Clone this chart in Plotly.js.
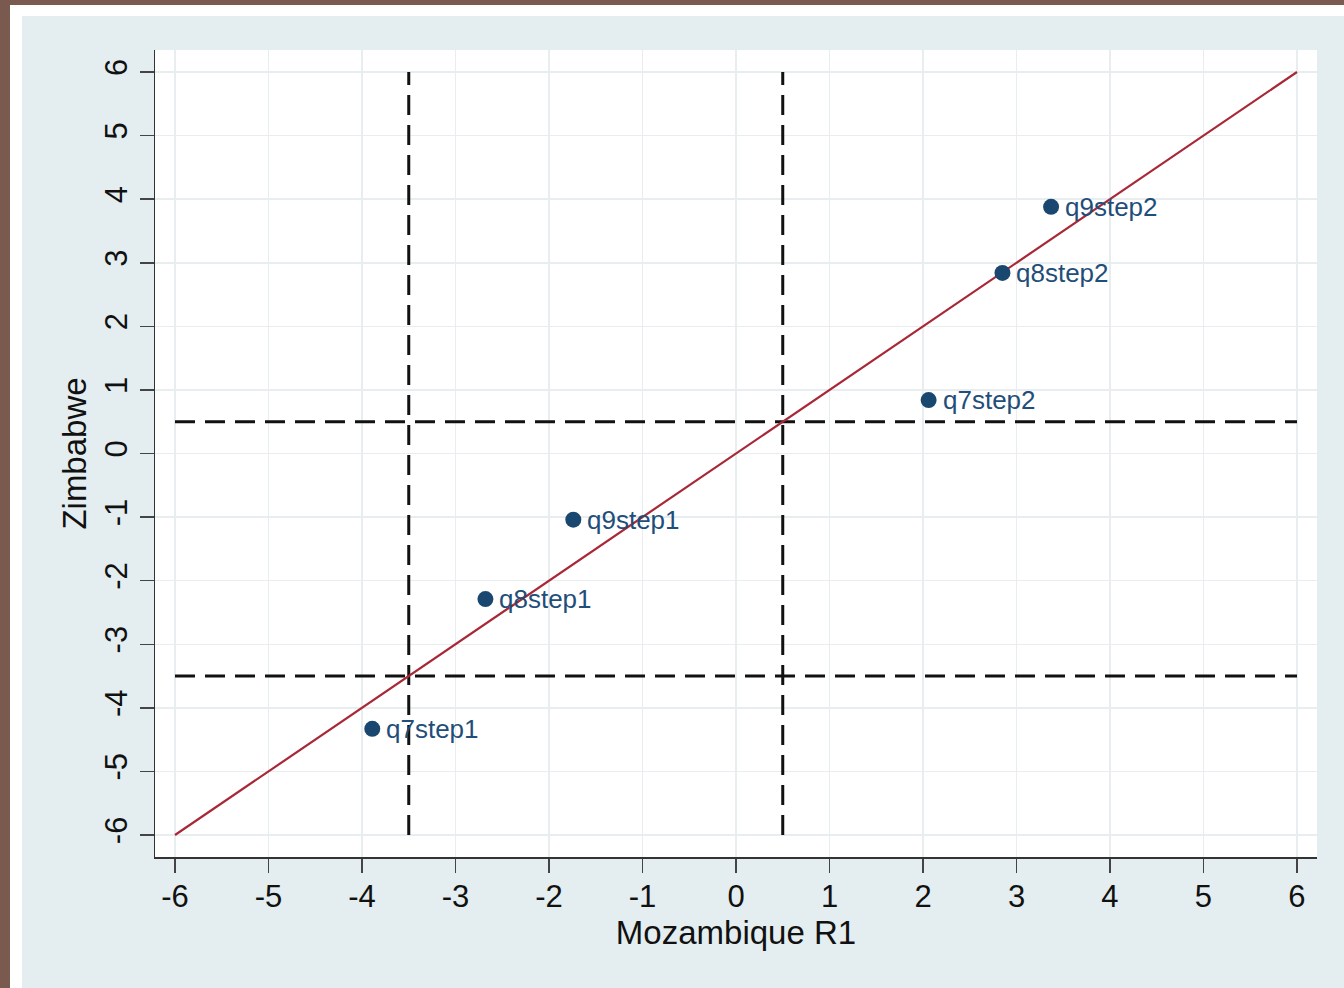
<!DOCTYPE html>
<html>
<head>
<meta charset="utf-8">
<script src="https://cdn.plot.ly/plotly-3.0.1.min.js"></script>
<style>
  html, body { margin: 0; padding: 0; width: 1344px; height: 988px; overflow: hidden; background: #7a5a4f; }
  #frame { position: absolute; left: 10px; top: 5px; width: 1334px; height: 983px; background: #ffffff; }
  #chart { position: absolute; left: 22px; top: 16px; width: 1322px; height: 972px; }
</style>
</head>
<body>
<div id="frame"></div>
<div id="chart"></div>
<script>
// Data
const itemLabels = ["q7step1", "q8step1", "q9step1", "q7step2", "q8step2", "q9step2"];
const mozambiqueR1 = [-3.89, -2.68, -1.74, 2.06, 2.85, 3.37];
const zimbabwe = [-4.33, -2.29, -1.04, 0.84, 2.84, 3.88];
const identityLine = [-6, 6];
const cutX = [-3.5, 0.5];
const cutY = [0.5, -3.5];
const tickVals = [-6, -5, -4, -3, -2, -1, 0, 1, 2, 3, 4, 5, 6];

const navy = "#1a476f";
const traces = [];

// Horizontal dashed reference lines
cutY.forEach(v => {
  traces.push({
    x: identityLine, y: [v, v], mode: "lines", type: "scatter",
    line: { color: "#111111", width: 3, dash: "20px,10px" }, hoverinfo: "skip", showlegend: false
  });
});
// Vertical dashed reference lines
cutX.forEach(v => {
  traces.push({
    x: [v, v], y: identityLine, mode: "lines", type: "scatter",
    line: { color: "#111111", width: 3, dash: "20px,10px" }, hoverinfo: "skip", showlegend: false
  });
});
// Identity line
traces.push({
  x: identityLine, y: identityLine, mode: "lines", type: "scatter",
  line: { color: "#a82838", width: 2.2 }, hoverinfo: "skip", showlegend: false
});
// Items
traces.push({
  x: mozambiqueR1, y: zimbabwe, mode: "markers", type: "scatter",
  marker: { color: navy, size: 16 }, showlegend: false
});

const fontFam = "Liberation Sans, Arial, sans-serif";
const annotations = itemLabels.map((t, i) => ({
  x: mozambiqueR1[i], y: zimbabwe[i], xref: "x", yref: "y",
  text: t, showarrow: false, xanchor: "left", yanchor: "middle", xshift: 12,
  font: { family: fontFam, size: 26, color: "#1f4e79" }
}));

const layout = {
  width: 1322, height: 972,
  paper_bgcolor: "#e4eef0",
  plot_bgcolor: "#ffffff",
  margin: { l: 133, r: 27, t: 34, b: 131 },
  showlegend: false,
  annotations: annotations,
  font: { family: fontFam, color: "#111111" },
  xaxis: {
    range: [-6.214, 6.214],
    tickvals: tickVals,
    ticktext: tickVals.map(String),
    showgrid: true, gridcolor: "#e8eeef", gridwidth: 1.5,
    zeroline: false,
    showline: true, linecolor: "#333333", linewidth: 1.5,
    ticks: "outside", ticklen: 14, tickwidth: 1.5, tickcolor: "#444444",
    ticklabelstandoff: -3,
    tickfont: { size: 31, family: fontFam, color: "#111111" },
    title: { text: "Mozambique R1", font: { size: 33, family: fontFam, color: "#111111" }, standoff: 0 }
  },
  yaxis: {
    range: [-6.346, 6.346],
    tickvals: tickVals,
    ticktext: tickVals.map(String),
    tickangle: -90,
    showgrid: true, gridcolor: "#e8eeef", gridwidth: 1.5,
    zeroline: false,
    showline: true, linecolor: "#333333", linewidth: 1.5,
    ticks: "outside", ticklen: 14, tickwidth: 1.5, tickcolor: "#444444",
    tickfont: { size: 31, family: fontFam, color: "#111111" },
    title: { text: "Zimbabwe", font: { size: 33, family: fontFam, color: "#111111" }, standoff: 2 }
  }
};

Plotly.newPlot("chart", traces, layout, { displayModeBar: false, staticPlot: true });
</script>
</body>
</html>
